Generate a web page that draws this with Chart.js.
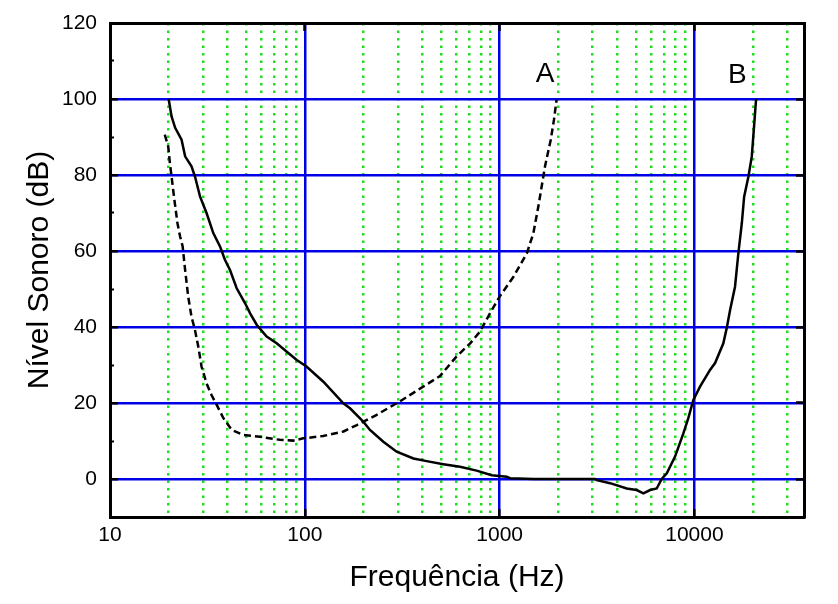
<!DOCTYPE html>
<html>
<head>
<meta charset="utf-8">
<script src="https://cdn.jsdelivr.net/npm/chart.js@4/dist/chart.umd.min.js"></script>
<style>
  html, body { margin: 0; padding: 0; background: #fff; }
  #chart { display: block; }
</style>
</head>
<body>
<canvas id="chart" width="838" height="604"></canvas>
<script>
// curve A (dashed)
let freqA = [19.1, 19.9, 20.3, 20.7, 21.3, 22.2, 22.9, 23.6, 24.3, 25.2, 26.2, 27.3, 28.4, 29.5, 31.3, 33.2, 35.3, 38.2, 42.2, 48.3,
    58.9, 74.5, 87.3, 98.2, 124, 158, 185, 234, 307, 405, 494, 600, 706, 793, 892, 1000, 1180, 1380, 1490, 1580, 1710, 1830, 1900, 1960]
let levelA = [90.6, 87.5, 83.1, 79.6, 74.3, 67.3, 63.8, 61.2, 55, 48, 42.7, 39.2, 34.8, 29.6, 25.2, 22.1, 19.5, 16, 12.9, 11.6,
    11.1, 10.3, 10.1, 10.7, 11.3, 12.5, 14.2, 16.9, 20.4, 24.3, 27.1, 32.2, 35.7, 38.8, 43.6, 48, 53.3, 59.4, 64.7, 71.7, 82.3, 89.3, 94.5, 99.8]

// curve B (solid)
let freqB = [20, 20.7, 21.6, 23.3, 24.3, 26.2, 27.3, 29, 31.3, 33.9, 36.7, 38.9, 41.3, 44.7, 49.3, 52.4, 56.6, 63.7, 71.7, 80.8,
    90.9, 102, 124.5, 157.7, 170.6, 199.5, 216, 253, 296, 361, 422, 514, 626, 762, 910, 1087, 1130, 1500, 2000, 3090,
    3150, 3690, 4490, 5050, 5470, 5920, 6400, 6790, 7210, 7950, 8770, 9300, 9870, 10680, 12020, 12760, 14070, 14640,
    15240, 16150, 16800, 17500, 17990, 18930, 19690, 20230, 20720]
let levelB = [100, 95.4, 92.4, 89.3, 84.9, 82.3, 79.6, 74.3, 70, 64.7, 61.2, 57.7, 55, 50.2, 46.3, 43.6, 40.6, 37.5, 35.7, 33.5,
    31.3, 29.6, 25.6, 19.9, 18.6, 15.1, 12.9, 9.8, 7.2, 5.4, 4.7, 3.9, 3.2, 2.2, 1.0, 0.6, 0.2, 0, 0, 0,
    -0.3, -1.1, -2.5, -2.9, -3.8, -2.9, -2.5, 0, 1.5, 5.9, 12, 16, 20.8, 24.3, 28.7, 30.5, 35.7, 39.7,
    44.5, 50.6, 59.4, 67.3, 74.3, 79.6, 84.9, 92.8, 100]

// ticks
let majorTicksX = [10, 100, 1000, 10000]
let minorTicksX = [20, 30, 40, 50, 60, 70, 80, 90, 200, 300, 400, 500, 600, 700, 800, 900,
    2000, 3000, 4000, 5000, 6000, 7000, 8000, 9000, 20000, 30000]
let majorTicksY = [0, 20, 40, 60, 80, 100, 120]
let minorTicksY = [10, 30, 50, 70, 90, 110]

// curve labels
let curveNames = ['A', 'B']
let curveNameFreq = [1710, 16600]
let curveNameLevel = [104.5, 104.3]

const xMin = 10, xMax = 36500, yMin = -10, yMax = 120
const blue = '#0000e6'
const green = '#1ede1e'
const font = "'Liberation Sans', Arial, sans-serif"

function toPoints(xs, ys){
    return xs.map((x, i) => ({x: x, y: ys[i]}))
}

function fixTicks(list){
    return scale => { scale.ticks = list.map(v => ({value: v})) }
}

// force the box size and drop the extra padding asked for by edge labels
function fixSize(prop, size){
    return scale => {
        scale[prop] = size
        scale.paddingTop = 0
        scale.paddingBottom = 0
        scale.paddingLeft = 0
        scale.paddingRight = 0
    }
}

// draws the A / B labels next to the curves
const curveLabels = {
    id: 'curveLabels',
    afterDatasetsDraw(chart){
        const ctx = chart.ctx
        ctx.save()
        ctx.font = "28px " + font
        ctx.fillStyle = '#000'
        ctx.textAlign = 'center'
        ctx.textBaseline = 'alphabetic'
        curveNames.forEach((name, i) => {
            ctx.fillText(name,
                chart.scales.x.getPixelForValue(curveNameFreq[i]),
                chart.scales.y.getPixelForValue(curveNameLevel[i]))
        })
        ctx.restore()
    }
}

new Chart(document.getElementById('chart'), {
    type: 'scatter',
    data: {
        datasets: [
            {
                label: 'A',
                data: toPoints(freqA, levelA),
                showLine: true,
                borderColor: '#000',
                borderWidth: 2.5,
                borderDash: [7, 4],
                pointRadius: 0,
                tension: 0
            },
            {
                label: 'B',
                data: toPoints(freqB, levelB),
                showLine: true,
                borderColor: '#000',
                borderWidth: 2.5,
                pointRadius: 0,
                tension: 0
            }
        ]
    },
    options: {
        responsive: false,
        animation: false,
        devicePixelRatio: 1,
        layout: { padding: 0 },
        plugins: {
            legend: { display: false },
            tooltip: { enabled: false }
        },
        scales: {
            x: {
                type: 'logarithmic',
                position: 'bottom',
                min: xMin, max: xMax,
                afterBuildTicks: fixTicks(majorTicksX),
                afterFit: fixSize('height', 87),
                grid: {
                    color: c => c.tick && c.tick.value == xMin ? 'rgba(0,0,0,0)' : blue,
                    lineWidth: 2.5,
                    tickLength: -8,
                    tickColor: '#000',
                    tickWidth: 2.5
                },
                border: { display: true, color: '#000', width: 3 },
                ticks: {
                    color: '#000',
                    font: { family: font, size: 21 },
                    padding: 14,
                    maxRotation: 0,
                    autoSkip: false,
                    callback: v => String(v)
                },
                title: {
                    display: true,
                    text: 'Frequência (Hz)',
                    color: '#000',
                    font: { family: font, size: 30 },
                    padding: { top: 0, bottom: 8 }
                }
            },
            xMinor: {
                type: 'logarithmic',
                position: 'bottom',
                weight: -1,
                min: xMin, max: xMax,
                afterBuildTicks: fixTicks(minorTicksX),
                afterFit: fixSize('height', 0),
                grid: {
                    color: green,
                    lineWidth: 2.5,
                    drawTicks: false
                },
                border: { display: true, color: 'rgba(0,0,0,0)', width: 0, dash: [2.5, 5] },
                ticks: { display: false }
            },
            xTop: {
                type: 'logarithmic',
                position: 'top',
                min: xMin, max: xMax,
                afterBuildTicks: fixTicks(majorTicksX.slice(1)),
                afterFit: fixSize('height', 23),
                grid: {
                    drawOnChartArea: false,
                    tickLength: -8,
                    tickColor: '#000',
                    tickWidth: 2.5
                },
                border: { display: true, color: '#000', width: 3 },
                ticks: { display: false }
            },
            y: {
                type: 'linear',
                position: 'left',
                min: yMin, max: yMax,
                afterBuildTicks: fixTicks(majorTicksY),
                afterFit: fixSize('width', 110),
                grid: {
                    color: c => c.tick && c.tick.value == yMax ? 'rgba(0,0,0,0)' : blue,
                    lineWidth: 2.5,
                    tickLength: -8,
                    tickColor: '#000',
                    tickWidth: 2.5
                },
                border: { display: true, color: '#000', width: 3 },
                ticks: {
                    color: '#000',
                    font: { family: font, size: 21 },
                    padding: 21
                },
                title: {
                    display: true,
                    text: 'Nível Sonoro (dB)',
                    color: '#000',
                    font: { family: font, size: 30 },
                    padding: { top: 22, bottom: 0 }
                }
            },
            yMinor: {
                type: 'linear',
                position: 'left',
                weight: -1,
                min: yMin, max: yMax,
                afterBuildTicks: fixTicks(minorTicksY),
                afterFit: fixSize('width', 0),
                grid: {
                    drawOnChartArea: false,
                    tickLength: -4,
                    tickColor: '#000',
                    tickWidth: 2
                },
                border: { display: false },
                ticks: { display: false }
            },
            yRight: {
                type: 'linear',
                position: 'right',
                min: yMin, max: yMax,
                afterBuildTicks: fixTicks(majorTicksY.slice(0, -1)),
                afterFit: fixSize('width', 34),
                grid: {
                    drawOnChartArea: false,
                    tickLength: -8,
                    tickColor: '#000',
                    tickWidth: 2.5
                },
                border: { display: true, color: '#000', width: 3 },
                ticks: { display: false }
            }
        }
    },
    plugins: [curveLabels]
})
</script>
</body>
</html>
